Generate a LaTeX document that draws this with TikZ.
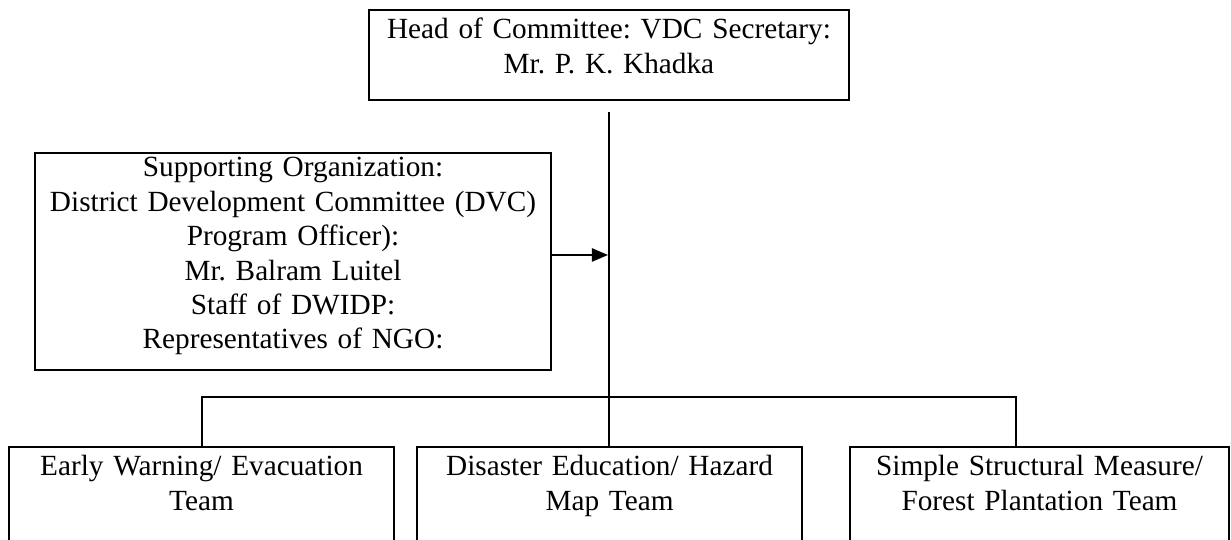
\documentclass[tikz,border=0pt]{standalone}
\usepackage{fontspec}
\setmainfont{Liberation Serif}
\frenchspacing
\usetikzlibrary{arrows.meta}

\begin{document}
\begin{tikzpicture}[x=0.41pt, y=-0.41pt, line width=0.8pt, >={Triangle[length=6.6pt, width=5.4pt]},
  every node/.style={font=\fontsize{12}{14.1}\selectfont},
  orgbox/.style={draw, anchor=north west, inner sep=0pt, align=center}]
  \clip (0,0) rectangle (1231,540);
  \node[orgbox, text width=196.8pt, text height=11.9pt, text depth=25pt] (head) at (368,9) {Head of Committee: VDC Secretary:\\Mr. P. K. Khadka};
  \node[orgbox, text width=211.6pt, text height=9.8pt, text depth=79.2pt] (support) at (34,152) {Supporting Organization:\\District Development Committee (DVC)\\Program Officer):\\Mr. Balram Luitel\\Staff of DWIDP:\\Representatives of NGO:};
  \node[orgbox, text width=157.9pt, text height=11.9pt, text depth=45pt] (warn) at (8,446) {Early Warning/ Evacuation\\Team};
  \node[orgbox, text width=157.9pt, text height=11.9pt, text depth=45pt] (edu) at (416,446) {Disaster Education/ Hazard\\Map Team};
  \node[orgbox, text width=155.4pt, text height=11.9pt, text depth=45pt] (forest) at (849,446) {Simple Structural Measure/\\Forest Plantation Team};
  \coordinate (join) at (608,255);
  \coordinate (drop) at (1016,397);
  \draw[shorten <=4.5pt] (head.south) -- (head.south |- edu.north);
  \draw[->] (support.east |- join) -- (join);
  \draw (warn.north) |- (drop) -- (drop |- forest.north);
\end{tikzpicture}
\end{document}
